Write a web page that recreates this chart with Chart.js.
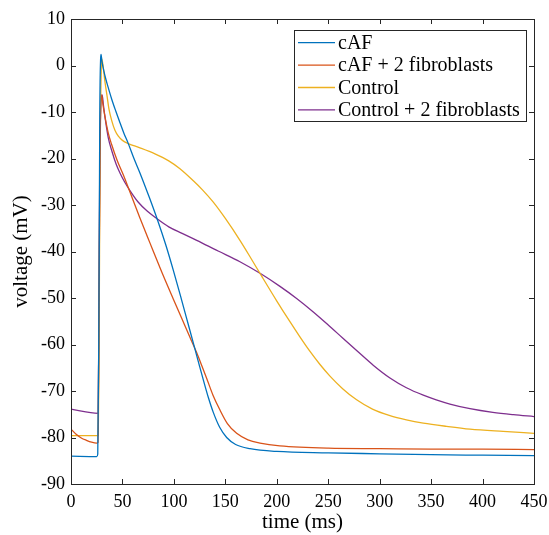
<!DOCTYPE html>
<html>
<head>
<meta charset="utf-8">
<script src="https://cdn.jsdelivr.net/npm/chart.js@4.4.1/dist/chart.umd.min.js"></script>
<style>
  html, body { margin: 0; padding: 0; background: #fff; }
  canvas { display: block; }
</style>
</head>
<body>
<canvas id="apChart" width="549" height="535"></canvas>
<script>
// series labels + colours (MATLAB default order)
const seriesLabels = ['cAF', 'cAF + 2 fibroblasts', 'Control', 'Control + 2 fibroblasts'];
const seriesColors = ['#0072BD', '#D95319', '#EDB120', '#7E2F8E'];

// cAF
const cafTime = [0, 25, 26, 27, 28, 28.8, 29.2, 30, 33, 36, 39.5, 43.5, 47.6, 51.5, 55.7, 61, 67, 76, 84.5, 92, 99.4, 107.6, 114, 120.5, 125, 128.6, 133.5, 138.3, 144.5, 151.3, 160, 174, 200, 250, 300, 350, 400, 450];
const cafV    = [-84, -84.1, -83.6, -60, -10, 1.5, 2.4, 1.0, -2.2, -4.6, -7.2, -9.8, -12.3, -14.6, -16.8, -19.9, -23.1, -28.3, -33.5, -38.5, -44.0, -50.5, -55.7, -61.0, -64.7, -67.6, -71.4, -74.6, -77.8, -80.0, -81.5, -82.4, -83.0, -83.3, -83.5, -83.7, -83.8, -83.9];

// cAF + 2 fibroblasts
const cafFibTime = [0, 5, 10, 15, 20, 25, 26.3, 27.2, 28.2, 29.8, 31, 33, 36.3, 39.5, 45, 50.8, 57.3, 67, 76.8, 88, 99.4, 110, 117.3, 122.2, 127, 131.9, 138, 144.8, 152, 161, 172, 183.7, 203, 250, 300, 350, 400, 450];
const cafFibV    = [-78.2, -79.3, -80.1, -80.6, -81, -81.2, -81, -50, -20, -6.3, -8.3, -11, -14.6, -17, -20.5, -23.5, -27.2, -32.8, -38.2, -44.3, -50.2, -55.6, -59.3, -61.8, -64.5, -67.3, -70.9, -74.1, -77, -79.1, -80.5, -81.2, -81.8, -82.3, -82.4, -82.5, -82.5, -82.6];

// Control
const ctrlTime = [0, 26.5, 27.3, 28.2, 29.2, 29.9, 31, 33, 35, 37, 39.5, 42.8, 46, 50, 55.7, 67, 81.6, 95, 105.9, 118.9, 128, 138.3, 150, 164.2, 175, 185.3, 199.9, 212.8, 222, 232.3, 242, 251.7, 264, 277.6, 293, 310, 326, 342.4, 365, 387.8, 420, 450];
const ctrlV    = [-79.6, -79.6, -60, -20, -3, 1.4, 0.2, -3.5, -6.5, -9.5, -11.8, -14, -15.2, -16.1, -16.8, -17.7, -19.0, -20.5, -22.2, -24.8, -26.8, -29.4, -32.9, -37.6, -41.5, -45.3, -50.6, -55.1, -58.2, -61.5, -64.3, -66.8, -69.5, -71.9, -73.9, -75.3, -76.2, -76.9, -77.6, -78.2, -78.7, -79.1];

// Control + 2 fibroblasts
const ctrlFibTime = [0, 26.5, 27.2, 28, 29.5, 30.3, 31.5, 33.5, 36.3, 40, 44, 47.6, 52, 57.3, 65, 74, 83.3, 95, 108, 122.2, 143, 164.2, 185.3, 203.1, 219.3, 235.5, 250, 264, 277.6, 294, 310, 326, 342.4, 355, 368.3, 387.8, 410, 430, 450];
const ctrlFibV    = [-73.9, -74.8, -50, -20, -7, -6.3, -8.5, -11.8, -15.6, -18.6, -21.3, -23.1, -25, -26.9, -29.3, -31.3, -32.9, -34.7, -36.1, -37.6, -39.9, -42.2, -44.9, -47.5, -50.1, -53.0, -55.8, -58.6, -61.3, -64.5, -67.2, -69.3, -70.9, -71.9, -72.8, -73.8, -74.6, -75.1, -75.5];

const xTicks = { min: 0, max: 450, step: 50 };
const yTicks = { min: -90, max: 10, step: 10 };

const axisColor = '#262626';
const fontFamily = '"Liberation Serif", "DejaVu Serif", serif';

function pairs(ts, vs) {
    return ts.map((t, i) => ({ x: t, y: vs[i] }));
}

const seriesData = [
    pairs(cafTime, cafV),
    pairs(cafFibTime, cafFibV),
    pairs(ctrlTime, ctrlV),
    pairs(ctrlFibTime, ctrlFibV)
];

// box around the axes + inward ticks on all four sides
const matlabAxes = {
    id: 'matlabAxes',
    afterDatasetsDraw(chart) {
        const { ctx, chartArea: a, scales: { x, y } } = chart;
        const len = 5;
        ctx.save();
        ctx.strokeStyle = axisColor;
        ctx.lineWidth = 1;
        ctx.beginPath();
        x.ticks.forEach(t => {
            const px = Math.round(x.getPixelForValue(t.value)) + 0.5;
            ctx.moveTo(px, a.bottom); ctx.lineTo(px, a.bottom - len);
            ctx.moveTo(px, a.top); ctx.lineTo(px, a.top + len);
        });
        y.ticks.forEach(t => {
            const py = Math.round(y.getPixelForValue(t.value)) + 0.5;
            ctx.moveTo(a.left, py); ctx.lineTo(a.left + len, py);
            ctx.moveTo(a.right, py); ctx.lineTo(a.right - len, py);
        });
        ctx.stroke();
        ctx.strokeRect(Math.round(a.left) + 0.5, Math.round(a.top) + 0.5,
            Math.round(a.right) - Math.round(a.left), Math.round(a.bottom) - Math.round(a.top));
        ctx.restore();
    }
};

// legend drawn inside the axes, top right ("northeast")
const insideLegend = {
    id: 'insideLegend',
    afterDraw(chart) {
        const { ctx, chartArea: a } = chart;
        const ds = chart.data.datasets;
        ctx.save();
        ctx.font = '20px ' + fontFamily;
        const textW = Math.max(...ds.map(d => ctx.measureText(d.label).width));
        const lineLen = 37, padL = 4, gap = 3, padR = 6, rowH = 22.4;
        const w = Math.round(padL + lineLen + gap + textW + padR);
        const h = Math.round(rowH * ds.length + 1);
        const right = Math.round(a.right - 8), top = Math.round(a.top + 11);
        const left = right - w;
        ctx.fillStyle = '#fff';
        ctx.fillRect(left, top, w, h);
        ctx.strokeStyle = axisColor;
        ctx.lineWidth = 1;
        ctx.strokeRect(left + 0.5, top + 0.5, w, h);
        ds.forEach((d, i) => {
            const cy = top + rowH * (i + 0.5) + 1.5;
            ctx.strokeStyle = d.borderColor;
            ctx.lineWidth = 1.3;
            ctx.beginPath();
            ctx.moveTo(left + padL, cy);
            ctx.lineTo(left + padL + lineLen, cy);
            ctx.stroke();
            ctx.fillStyle = '#000';
            ctx.textBaseline = 'middle';
            ctx.fillText(d.label, left + padL + lineLen + gap, cy + 1);
        });
        ctx.restore();
    }
};

const ctx = document.getElementById('apChart').getContext('2d');
new Chart(ctx, {
    type: 'line',
    data: {
        datasets: seriesData.map((pts, i) => ({
            label: seriesLabels[i],
            data: pts,
            borderColor: seriesColors[i],
            backgroundColor: seriesColors[i],
            borderWidth: 1.3,
            pointRadius: 0,
            fill: false,
            cubicInterpolationMode: 'monotone'
        }))
    },
    options: {
        responsive: false,
        animation: false,
        layout: { padding: { left: 0, right: 15, top: 19, bottom: 0 } },
        plugins: { legend: { display: false }, tooltip: { enabled: false } },
        scales: {
            x: {
                type: 'linear',
                min: xTicks.min, max: xTicks.max,
                ticks: { stepSize: xTicks.step, color: '#000', padding: 7, maxRotation: 0,
                    font: { family: fontFamily, size: 18 } },
                grid: { display: false, drawTicks: false },
                border: { display: false },
                title: { display: true, text: 'time (ms)', color: '#000', padding: { top: 0, bottom: 0 },
                    font: { family: fontFamily, size: 21 } },
                afterFit(scale) { scale.height = 51; scale.paddingRight = 0; scale.paddingLeft = 0; }
            },
            y: {
                type: 'linear',
                min: yTicks.min, max: yTicks.max,
                ticks: { stepSize: yTicks.step, color: '#000', padding: 6,
                    font: { family: fontFamily, size: 18 } },
                grid: { display: false, drawTicks: false },
                border: { display: false },
                title: { display: true, text: 'voltage (mV)', color: '#000', padding: { top: 9, bottom: 0 },
                    font: { family: fontFamily, size: 21 } },
                afterFit(scale) { scale.width = 71; scale.paddingTop = 0; scale.paddingBottom = 0; }
            }
        }
    },
    plugins: [matlabAxes, insideLegend]
});
</script>
</body>
</html>
